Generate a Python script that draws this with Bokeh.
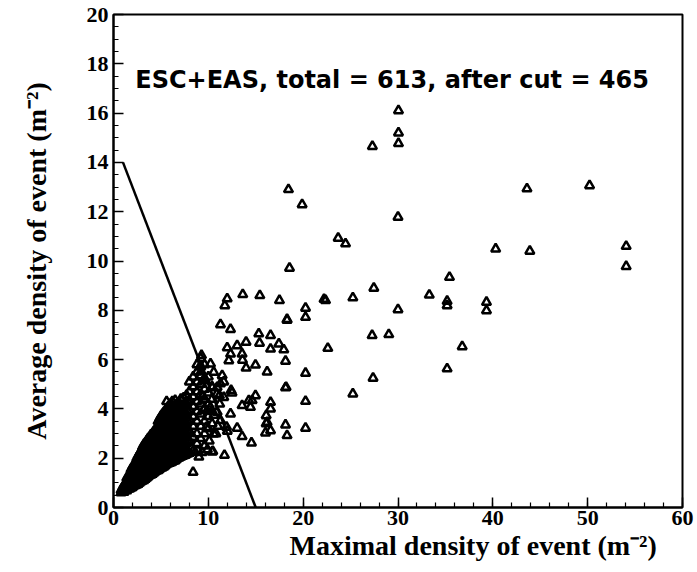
from bokeh.plotting import figure
from bokeh.models import Label, SingleIntervalTicker, Range1d, ColumnDataSource, Title
from bokeh.embed import file_html
from bokeh.resources import INLINE

# ---- data ----
# dense core of events: (x, [y values]) columns
core_cols = [
    (0.8, [0.6, 0.7]),
    (1.1, [0.62, 0.75, 0.9]),
    (1.4, [0.68, 0.85, 1.05, 1.2]),
    (1.7, [0.75, 0.95, 1.15, 1.35]),
    (2.0, [0.82, 1.0, 1.2, 1.45, 1.65]),
    (2.3, [0.9, 1.1, 1.3, 1.55, 1.8]),
    (2.6, [0.95, 1.15, 1.4, 1.65, 1.9, 2.1]),
    (2.9, [1.05, 1.3, 1.5, 1.75, 2.0, 2.3]),
    (3.2, [1.1, 1.35, 1.6, 1.85, 2.1, 2.35, 2.55]),
    (3.5, [1.2, 1.45, 1.7, 1.95, 2.2, 2.5, 2.7]),
    (3.8, [1.3, 1.55, 1.8, 2.05, 2.35, 2.6, 2.85]),
    (4.1, [1.35, 1.6, 1.9, 2.15, 2.45, 2.75, 3.0]),
    (4.4, [1.45, 1.7, 2.0, 2.3, 2.55, 2.85, 3.15]),
    (4.7, [1.5, 1.8, 2.1, 2.4, 2.7, 3.0, 3.3, 3.5]),
    (5.0, [1.6, 1.9, 2.2, 2.5, 2.8, 3.1, 3.4, 3.7]),
    (5.3, [1.65, 1.95, 2.3, 2.6, 2.9, 3.25, 3.55, 3.85]),
    (5.6, [1.75, 2.05, 2.4, 2.75, 3.05, 3.4, 3.7, 4.0, 4.3]),
    (5.9, [1.8, 2.1, 2.45, 2.8, 3.15, 3.5, 3.85, 4.15]),
    (6.2, [1.85, 2.2, 2.55, 2.9, 3.3, 3.65, 4.0, 4.3]),
    (6.5, [1.9, 2.3, 2.65, 3.0, 3.4, 3.75, 4.1, 4.35]),
    (6.8, [2.0, 2.35, 2.75, 3.1, 3.5, 3.9, 4.25]),
    (7.1, [2.05, 2.45, 2.8, 3.2, 3.6, 4.0, 4.4]),
    (7.4, [2.1, 2.5, 2.9, 3.3, 3.7, 4.1, 4.45]),
    (7.7, [2.15, 2.6, 3.0, 3.4, 3.8, 4.2, 4.55]),
    (8.0, [2.2, 2.7, 3.1, 3.55, 3.95, 4.35, 4.7, 5.1]),
    (8.4, [2.3, 2.85, 3.3, 3.7, 4.1, 4.5, 4.9, 5.3]),
    (8.8, [2.6, 3.0, 3.5, 3.9, 4.3, 4.7, 5.1, 5.5, 5.8]),
    (9.2, [2.8, 3.3, 3.8, 4.2, 4.6, 5.0, 5.35, 5.7, 6.05]),
    (9.6, [3.0, 3.5, 4.0, 4.4, 4.8, 5.25, 5.8]),
    (10.0, [3.2, 3.7, 4.2, 4.65, 5.3]),
    (10.4, [3.4, 3.9, 4.4, 4.9]),
]
core_cols_b = [
    (0.95, [0.66, 0.8]),
    (1.25, [0.7, 0.83, 0.98]),
    (1.55, [0.75, 0.92, 1.12, 1.28]),
    (1.85, [0.8, 0.98, 1.18, 1.4, 1.55]),
    (2.15, [0.88, 1.08, 1.28, 1.5, 1.72]),
    (2.45, [0.92, 1.12, 1.35, 1.6, 1.85, 2.0]),
    (2.75, [1.0, 1.22, 1.45, 1.7, 1.95, 2.2]),
    (3.05, [1.08, 1.32, 1.55, 1.8, 2.05, 2.3, 2.45]),
    (3.35, [1.15, 1.4, 1.65, 1.9, 2.15, 2.42, 2.62]),
    (3.65, [1.25, 1.5, 1.75, 2.0, 2.28, 2.55, 2.8]),
    (3.95, [1.32, 1.58, 1.85, 2.1, 2.4, 2.68, 2.95]),
    (4.25, [1.4, 1.65, 1.95, 2.22, 2.5, 2.8, 3.08]),
    (4.55, [1.48, 1.75, 2.05, 2.35, 2.62, 2.92, 3.22]),
    (4.85, [1.55, 1.85, 2.15, 2.45, 2.75, 3.05, 3.35, 3.6]),
    (5.15, [1.62, 1.92, 2.25, 2.55, 2.85, 3.18, 3.48, 3.78]),
    (5.45, [1.7, 2.0, 2.35, 2.68, 2.98, 3.32, 3.62, 3.92]),
    (5.75, [1.78, 2.08, 2.42, 2.78, 3.1, 3.45, 3.78, 4.08]),
    (6.05, [1.82, 2.15, 2.5, 2.85, 3.22, 3.58, 3.92, 4.22]),
    (6.35, [1.88, 2.25, 2.6, 2.95, 3.35, 3.7, 4.05]),
    (6.65, [1.95, 2.32, 2.7, 3.05, 3.45, 3.82, 4.18]),
    (6.95, [2.02, 2.4, 2.78, 3.15, 3.55, 3.95]),
    (7.25, [2.08, 2.48, 2.85, 3.25, 3.65, 4.05]),
    (7.55, [2.12, 2.55, 2.95, 3.35, 3.75, 4.15]),
    (7.85, [2.18, 2.65, 3.05, 3.48, 3.88, 4.28]),
]
# events just under/around the cut line, right edge of the core
edge_x = [8.9, 9.6, 10.1, 10.8, 11.0, 9.9, 8.6, 9.0, 10.6, 11.2, 10.9, 10.2, 9.4, 9.8]
edge_y = [2.3, 2.5, 2.7, 3.0, 3.3, 2.35, 2.25, 2.05, 3.75, 4.2, 4.6, 4.05, 4.5, 3.25]

# sparser events
sparse_x = [30.05, 30.05, 30.05, 27.3, 30.0, 18.45, 19.89, 23.69, 24.47, 18.56,
            43.6, 50.2, 40.3, 43.9, 54.06, 54.06, 35.43, 33.3, 35.18, 35.18,
            39.33, 39.33, 36.77, 35.18, 30.0, 27.45, 25.24, 22.36, 22.2, 20.25,
            20.25, 18.3, 27.27, 29.03, 22.6, 27.37, 25.24, 20.25, 20.25, 20.25,
            11.99, 11.74, 13.63, 15.43, 17.5, 18.3, 11.28, 12.34, 15.32, 16.56,
            11.99, 13.04, 13.98, 15.4, 17.44, 16.56, 17.96, 12.34, 13.56, 12.16,
            13.6, 14.97, 13.98, 16.2, 18.14, 11.46, 11.63, 10.23, 9.28, 9.17,
            9.24, 10.57, 9.7, 11.28, 12.4, 12.5, 10.4, 10.93, 11.17, 11.63,
            14.97, 14.27, 14.44, 13.56, 16.56, 16.56, 18.2, 18.14, 12.34, 10.93,
            9.87, 16.1, 16.2, 16.1, 11.28, 11.92, 12.0, 13.04, 16.56, 16.03,
            18.14, 18.3, 13.56, 14.55, 11.7, 10.47, 9.34, 10.4, 8.39, 10.57,
            14.62]
sparse_y = [16.1, 15.2, 14.77, 14.65, 11.78, 12.9, 12.29, 10.93, 10.7, 9.71,
            12.93, 13.06, 10.49, 10.4, 10.6, 9.78, 9.34, 8.62, 8.37, 8.19,
            8.33, 7.99, 6.53, 5.63, 8.03, 8.9, 8.51, 8.4, 8.45, 8.09,
            7.72, 7.63, 6.98, 7.02, 6.46, 5.25, 4.61, 5.45, 4.31, 3.22,
            8.47, 8.19, 8.64, 8.6, 8.4, 7.6, 7.42, 7.23, 7.05, 6.98,
            6.48, 6.57, 6.71, 6.67, 6.64, 6.43, 6.4, 6.23, 6.23, 5.96,
            5.98, 5.78, 5.66, 5.5, 5.94, 5.35, 5.1, 5.83, 6.17, 5.76,
            5.52, 5.49, 5.15, 5.02, 4.75, 4.65, 4.86, 4.88, 4.54, 4.47,
            4.54, 4.34, 4.07, 4.14, 4.27, 4.0, 4.88, 4.86, 3.8, 3.87,
            3.93, 3.73, 3.46, 3.4, 3.53, 3.26, 3.1, 3.22, 3.12, 3.03,
            3.35, 2.92, 2.88, 2.62, 2.12, 2.28, 2.24, 2.26, 1.43, 2.99,
            4.34]

cut_x = [1, 15]
cut_y = [14, 0]

title_text = "ESC+EAS, total = 613, after cut = 465"
x_title = "Maximal density of event (m\u207b\u00b2)"
y_title = "Average density of event (m\u207b\u00b2)"

# ---- build ----
xs, ys = [], []
for cols in (core_cols, core_cols_b):
    for cx, cys in cols:
        for cy in cys:
            xs.append(cx)
            ys.append(cy)
xs += edge_x + sparse_x
ys += edge_y + sparse_y
src = ColumnDataSource(dict(x=xs, y=ys))

p = figure(width=697, height=572, output_backend="svg", toolbar_location=None,
           x_range=Range1d(0, 60), y_range=Range1d(0, 20),
           min_border_left=113, min_border_right=15, min_border_top=14,
           min_border_bottom=65)
p.xgrid.visible = False
p.ygrid.visible = False
p.outline_line_color = "black"
p.outline_line_width = 2
p.background_fill_color = "white"
p.border_fill_color = "white"

p.xaxis.ticker = SingleIntervalTicker(interval=10, num_minor_ticks=5)
p.yaxis.ticker = SingleIntervalTicker(interval=2, num_minor_ticks=4)
for ax in (p.xaxis[0], p.yaxis[0]):
    ax.axis_line_color = "black"
    ax.axis_line_width = 2
    ax.major_tick_in = 10
    ax.major_tick_out = 0
    ax.minor_tick_in = 5
    ax.minor_tick_out = 0
    ax.major_tick_line_width = 1.5
    ax.minor_tick_line_width = 1.2
    ax.major_tick_line_color = "black"
    ax.minor_tick_line_color = "black"
    ax.major_label_text_font = "Liberation Serif"
    ax.major_label_text_font_style = "bold"
    ax.major_label_text_font_size = "22px"
    ax.major_label_text_color = "black"
p.yaxis.major_label_standoff = 5
p.xaxis.major_label_standoff = 3

p.yaxis.axis_label = y_title
p.yaxis.axis_label_text_font = "Liberation Serif"
p.yaxis.axis_label_text_font_style = "bold"
p.yaxis.axis_label_text_font_size = "28px"
p.yaxis.axis_label_text_color = "black"
p.yaxis.axis_label_standoff = 32

p.line(cut_x, cut_y, line_color="black", line_width=2.5)
p.scatter("x", "y", source=src, marker="triangle", size=9,
          fill_color=None, line_color="black", line_width=2.5)

p.add_layout(Label(x=2.3, y=17.36, text=title_text, text_font="DejaVu Sans",
                   text_font_style="bold", text_font_size="24px",
                   text_color="black", text_baseline="alphabetic"))
p.add_layout(Title(text=x_title, align="left", offset=176, standoff=0,
                   text_font="Liberation Serif", text_font_style="bold",
                   text_font_size="28px", text_color="black"), "below")

open("out.html", "w").write(file_html(p, INLINE))
